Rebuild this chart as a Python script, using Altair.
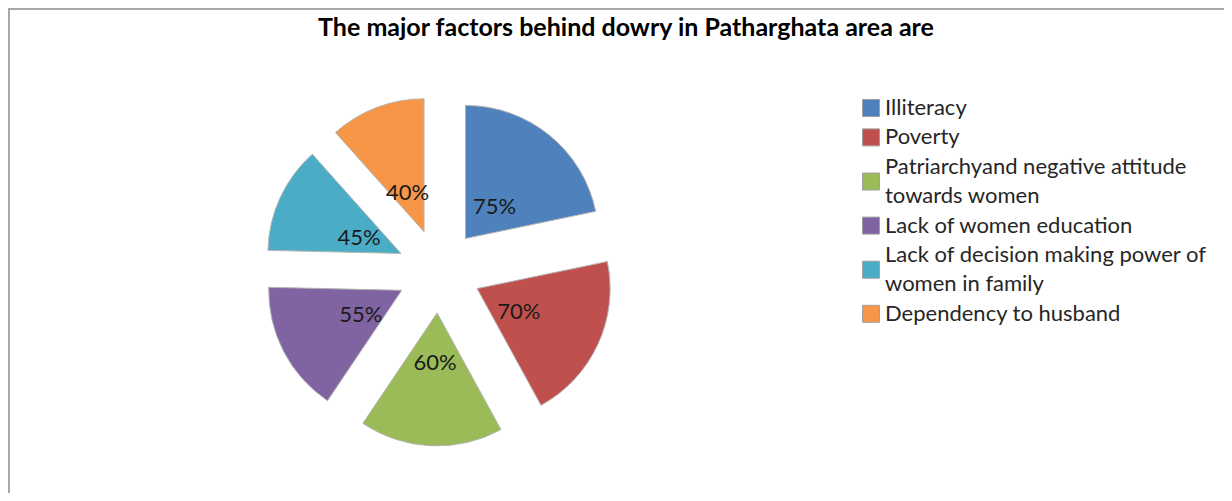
import altair as alt
import pandas as pd

# ---- data ----
factors = [
    "Illiteracy",
    "Poverty",
    "Patriarchyand negative attitude towards women",
    "Lack of women education",
    "Lack of decision making power of women in family",
    "Dependency to husband",
]
percent = [75, 70, 60, 55, 45, 40]
legend_lines = [
    ["Illiteracy"],
    ["Poverty"],
    ["Patriarchyand negative attitude", "towards women"],
    ["Lack of women education"],
    ["Lack of decision making power of", "women in family"],
    ["Dependency to husband"],
]
colors = ["#4F81BD", "#C0504D", "#9BBB59", "#8064A2", "#4BACC6", "#F79646"]
title_text = "The major factors behind dowry in Patharghata area are"

# ---- layout (pixels) ----
W, H = 1216, 485
CX, CY = 431, 263        # pie centre
R = 133                  # slice radius
EXPLODE = 42             # explosion distance
LABEL_R = 88             # label distance from centre
LEG_SYM_X = 863          # legend symbol centre x
LEG_TXT_X = 877          # legend text start x
LEG_Y0 = 100             # first legend line centre
LEG_PITCH = 29.4         # legend line pitch
FONT = "Lato"

df = pd.DataFrame({"factor": factors, "pct": percent, "order": list(range(len(factors)))})
total = float(sum(percent))

# legend lines table built from the lists above
rows, k = [], 0
for i, (f, lines) in enumerate(zip(factors, legend_lines)):
    for t in lines:
        rows.append({"factor": f, "order": i, "text": t, "line_idx": k})
        k += 1
leg_df = pd.DataFrame(rows)

color_scale = alt.Scale(domain=factors, range=colors)

base = alt.Chart(df).transform_window(
    end="sum(pct)", sort=[alt.SortField("order")], frame=[None, 0]
).transform_calculate(
    start="datum.end - datum.pct",
    ang=f"2*PI*(datum.end - datum.pct/2)/{total}",
).transform_calculate(
    cx=f"{CX} + {EXPLODE}*sin(datum.ang)",
    cy=f"{CY} - {EXPLODE}*cos(datum.ang)",
    lx=f"{CX} + {LABEL_R}*sin(datum.ang)",
    ly=f"{CY} - {LABEL_R}*cos(datum.ang)",
    label="datum.pct + '%'",
)

arcs = base.mark_arc(radius=R, stroke="#b4b4b4", strokeWidth=1).encode(
    x=alt.X("cx:Q", scale=None),
    y=alt.Y("cy:Q", scale=None),
    theta=alt.Theta("start:Q", scale=alt.Scale(domain=[0, total])),
    theta2="end:Q",
    color=alt.Color("factor:N", scale=color_scale, legend=None),
    order=alt.Order("order:Q"),
)

labels = base.mark_text(font=FONT, fontSize=22, color="#1a1a1a", dy=4).encode(
    x=alt.X("lx:Q", scale=None),
    y=alt.Y("ly:Q", scale=None),
    text="label:N",
)

leg_symbols = alt.Chart(leg_df).transform_aggregate(
    mid="mean(line_idx)", groupby=["factor", "order"]
).transform_calculate(
    sy=f"{LEG_Y0} + {LEG_PITCH}*datum.mid"
).mark_square(size=289, stroke="#a0a0a0", strokeWidth=1, opacity=1).encode(
    x=alt.value(LEG_SYM_X),
    y=alt.Y("sy:Q", scale=None),
    color=alt.Color("factor:N", scale=color_scale, legend=None),
)

leg_text = alt.Chart(leg_df).transform_calculate(
    ty=f"{LEG_Y0} + {LEG_PITCH}*datum.line_idx"
).mark_text(
    font=FONT, fontSize=22, color="#262626", align="left", baseline="middle"
).encode(
    x=alt.value(LEG_TXT_X),
    y=alt.Y("ty:Q", scale=None),
    text="text:N",
)

left_border = alt.Chart(df).mark_rule(color="#a8a8a8", strokeWidth=2).encode(
    x=alt.value(1), y=alt.value(0), y2=alt.value(H)
)
top_border = alt.Chart(df).mark_rule(color="#a8a8a8", strokeWidth=2).encode(
    y=alt.value(1), x=alt.value(0), x2=alt.value(W)
)

chart = alt.layer(left_border, top_border, arcs, labels, leg_symbols, leg_text).properties(
    width=W,
    height=H,
    autosize=alt.AutoSizeParams(type="none"),
    padding=0,
    title=alt.TitleParams(
        title_text,
        font=FONT,
        fontSize=25,
        fontWeight="bold",
        color="#000000",
        anchor="middle",
        frame="group",
        dx=10,
        dy=34,
        offset=0,
    ),
).configure_view(stroke=None)

chart.save("out.html", embed_options={"renderer": "svg", "actions": False})
